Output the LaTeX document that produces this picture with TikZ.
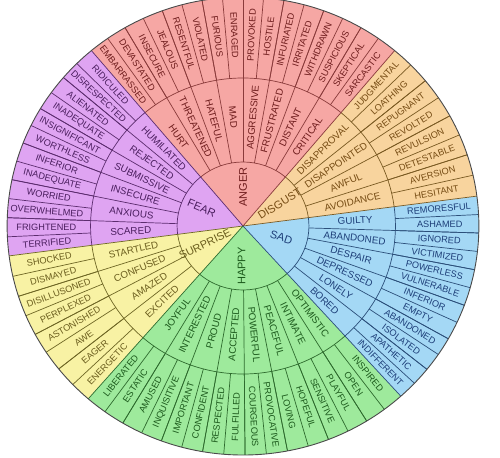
\documentclass[tikz,border=0pt]{standalone}
\usepackage{fontspec}
\setmainfont{Liberation Sans}
\definecolor{fANGER}{HTML}{F6A7A4}
\definecolor{lANGER}{HTML}{8A3B3B}
\definecolor{tANGER}{HTML}{6E1C1C}
\definecolor{fFEAR}{HTML}{DFA4F2}
\definecolor{lFEAR}{HTML}{5C2C6E}
\definecolor{tFEAR}{HTML}{4A1D5E}
\definecolor{fSURPRISE}{HTML}{F8F2A4}
\definecolor{lSURPRISE}{HTML}{6E6624}
\definecolor{tSURPRISE}{HTML}{6B5E1E}
\definecolor{fHAPPY}{HTML}{9EEA9C}
\definecolor{lHAPPY}{HTML}{2E6B2E}
\definecolor{tHAPPY}{HTML}{1C5A1C}
\definecolor{fSAD}{HTML}{A4D8F5}
\definecolor{lSAD}{HTML}{2B4F7A}
\definecolor{tSAD}{HTML}{1D3E78}
\definecolor{fDISGUST}{HTML}{F8D49E}
\definecolor{lDISGUST}{HTML}{7A5A22}
\definecolor{tDISGUST}{HTML}{764C14}
\definecolor{rimgray}{HTML}{4A4A4A}
\def\WRi{64}
\def\WRm{148}
\def\WRo{229}
\tikzset{
  midlab/.style={font=\fontsize{9.8}{10}\selectfont, inner sep=0pt},
  outlab/.style={font=\fontsize{9.2}{10}\selectfont, inner sep=0pt},
  corelab/.style={font=\fontsize{11}{12}\selectfont, inner sep=0pt},
  sepline/.style={line width=0.7pt},
}
\newcommand{\wheelfill}[3]{%
  \fill[f#3] (0,0) -- (#1:\WRo) arc[start angle=#1, end angle=#2, radius=\WRo] -- cycle;
}
\newcommand{\wheelsector}[8]{%
  \pgfmathsetmacro\wdm{(#2-#1)/#3}%
  \pgfmathsetmacro\wdo{\wdm/2}%
  \draw[l#4, sepline] (0,0) -- (#1:\WRo);
  \draw[l#4, sepline] (#1:\WRi) arc[start angle=#1, end angle=#2, radius=\WRi];
  \draw[l#4, sepline] (#1:\WRm) arc[start angle=#1, end angle=#2, radius=\WRm];
  \foreach \w [count=\i] in {#7} {
    \pgfmathsetmacro\wa{#1+(\i-1)*\wdm}
    \pgfmathsetmacro\wc{#1+(\i-0.5)*\wdm}
    \pgfmathsetmacro\wr{cos(\wc)<0 ? \wc+180 : \wc}
    \ifnum\i>1 \draw[l#4, sepline] (\wa:\WRi) -- (\wa:\WRo);\fi
    \node[midlab, text=t#4, rotate=\wr] (m#4\i) at (\wc:109) {\w};
  }
  \foreach \w [count=\i] in {#8} {
    \pgfmathsetmacro\wa{#1+(\i-1)*\wdo}
    \pgfmathsetmacro\wc{#1+(\i-0.5)*\wdo}
    \pgfmathsetmacro\wr{cos(\wc)<0 ? \wc+180 : \wc}
    \ifnum\i>1 \draw[l#4, sepline] (\wa:\WRm) -- (\wa:\WRo);\fi
    \node[outlab, text=t#4, rotate=\wr] (o#4\i) at (\wc:191) {\w};
  }
  \node[corelab, text=t#4, rotate=#6] (c#4) at (#5) {#4};
}
\begin{document}
\begin{tikzpicture}[x=1.03pt, y=1pt]
\useasboundingbox (-235.92,-231) rectangle (249.51,226);
\fill[white] (-235.92,-231) rectangle (249.51,226);
\wheelfill{7.5}{50}{DISGUST}
\wheelfill{50}{130}{ANGER}
\wheelfill{130}{187.5}{FEAR}
\wheelfill{187.5}{229}{SURPRISE}
\wheelfill{229}{312}{HAPPY}
\wheelfill{312}{367.5}{SAD}
\wheelsector{7.5}{50}{4}{DISGUST}{32:42}{32}
  {AVOIDANCE,AWFUL,DISAPPOINTED,DISAPPROVAL}
  {HESITANT,AVERSION,DETESTABLE,REVULSION,REVOLTED,REPUGNANT,LOATHING,JUDGMENTAL}
\wheelsector{50}{130}{8}{ANGER}{90:39}{90}
  {CRITICAL,DISTANT,FRUSTRATED,AGGRESSIVE,MAD,HATEFUL,THREATENED,HURT}
  {SARCASTIC,SKEPTICAL,SUSPICIOUS,WITHDRAWN,IRRITATED,INFURIATED,HOSTILE,PROVOKED,ENRAGED,FURIOUS,VIOLATED,RESENTFUL,JEALOUS,INSECURE,DEVASTATED,EMBARRASSED}
\wheelsector{130}{187.5}{6}{FEAR}{156:44}{-23}
  {HUMILIATED,REJECTED,SUBMISSIVE,INSECURE,ANXIOUS,SCARED}
  {RIDICULED,DISRESPECTED,ALIENATED,INADEQUATE,INSIGNIFICANT,WORTHLESS,INFERIOR,INADEQUATE,WORRIED,OVERWHELMED,FRIGHTENED,TERRIFIED}
\wheelsector{187.5}{229}{4}{SURPRISE}{206:41}{26}
  {STARTLED,CONFUSED,AMAZED,EXCITED}
  {SHOCKED,DISMAYED,DISILLUSONED,PERPLEXED,ASTONISHED,AWE,EAGER,ENERGETIC}
\wheelsector{229}{312}{8}{HAPPY}{268:40}{90}
  {JOYFUL,INTERESTED,PROUD,ACCEPTED,POWERFUL,PEACEFUL,INTIMATE,OPTIMISTIC}
  {LIBERATED,ESTATIC,AMUSED,INQUISITIVE,IMPORTANT,CONFIDENT,RESPECTED,FULFILLED,COURGEOUS,PROVOCATIVE,LOVING,HOPEFUL,SENSITIVE,PLAYFUL,OPEN,INSPIRED}
\wheelsector{312}{367.5}{6}{SAD}{343:39}{-18}
  {BORED,LONELY,DEPRESSED,DESPAIR,ABANDONED,GUILTY}
  {INDIFFERENT,APATHETIC,ISOLATED,ABANDONED,EMPTY,INFERIOR,VULNERABLE,POWERLESS,VICTIMIZED,IGNORED,ASHAMED,REMORESFUL}
\draw[rimgray, line width=0.9pt] (0,0) ellipse[x radius=\WRo, y radius=\WRo];
\end{tikzpicture}
\end{document}
